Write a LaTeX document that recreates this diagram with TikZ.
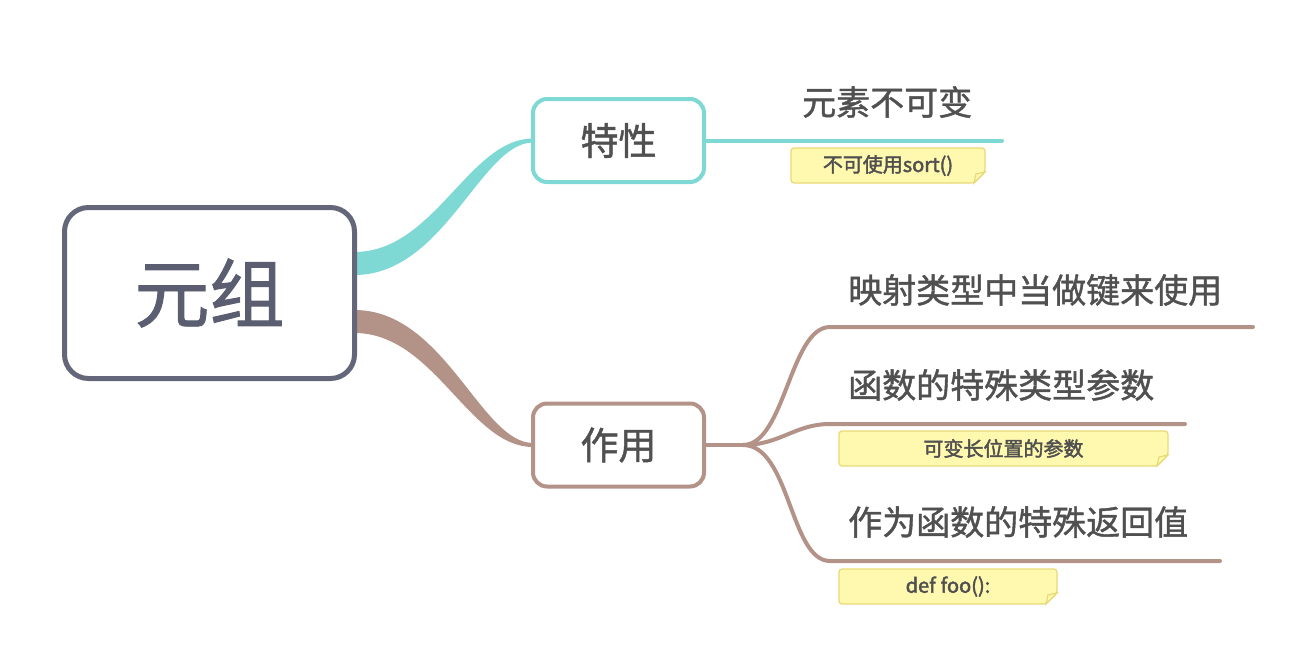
\documentclass[tikz,border=0pt]{standalone}
\usepackage{fontspec}
\setmainfont{Noto Sans CJK SC}[FakeBold=1.2]
\newfontfamily\notefont{Noto Sans CJK SC}[FakeBold=2.2]
\usetikzlibrary{calc, backgrounds}

\definecolor{tealline}{HTML}{7ED8D3}
\definecolor{brownline}{HTML}{B39288}
\definecolor{rootline}{HTML}{636779}
\definecolor{roottext}{HTML}{5A5E70}
\definecolor{topictext}{HTML}{505050}
\definecolor{notefill}{HTML}{FFF9B0}
\definecolor{noteline}{HTML}{E8D977}

% outline of a yellow note with a turned-down corner
\newcommand{\stickynote}[1]{%
  \filldraw[notepaper, rounded corners=3pt] (#1.north west) -- (#1.north east)
    -- ([yshift=11pt]#1.south east) -- ([xshift=-11pt]#1.south east)
    -- (#1.south west) -- cycle;
  \filldraw[notepaper] ([yshift=11pt]#1.south east) -- ([xshift=-11pt]#1.south east)
    -- ([xshift=-9pt,yshift=9pt]#1.south east) -- cycle;}

\begin{document}
\begin{tikzpicture}[x=1pt, y=-1pt,
  rootbox/.style={draw=rootline, line width=5pt, rounded corners=24pt, fill=white,
    minimum width=290pt, minimum height=171pt, outer sep=0pt, text=roottext,
    font=\fontsize{75}{80}\selectfont},
  subbox/.style={draw=#1, line width=4pt, rounded corners=14pt, fill=white,
    minimum width=171pt, minimum height=83pt, outer sep=0pt, text=topictext,
    font=\fontsize{38}{44}\selectfont},
  topic/.style={inner sep=0pt, anchor=west, text=topictext, font=\fontsize{34}{40}\selectfont},
  note/.style={inner sep=0pt, minimum height=35pt, outer sep=0pt, text=topictext,
    font=\notefont\fontsize{20}{23}\selectfont},
  notepaper/.style={fill=notefill, draw=noteline, line width=1.2pt},
  branch/.style={draw=#1, line width=4pt, line cap=round}]

\useasboundingbox (0,0) rectangle (1315,667);

\node[rootbox] (yuanzu) at (209.5,293) {元组};
\node[subbox=tealline] (texing) at (618.5,140.5) {特性};
\node[subbox=brownline] (zuoyong) at (618.5,445) {作用};

% tapered links from the root
\begin{scope}[on background layer]
\fill[tealline] ($(yuanzu.east)+(0,-41)$) .. controls +(80,0) and +(-64,0) .. ($(texing.west)+(0,-2)$)
  -- ($(texing.west)+(0,2)$) .. controls +(-52,0) and +(90,0) .. ($(yuanzu.east)+(0,-18)$) -- cycle;
\fill[brownline] ($(yuanzu.east)+(0,17)$) .. controls +(90,0) and +(-52,0) .. ($(zuoyong.west)+(0,-2)$)
  -- ($(zuoyong.west)+(0,2)$) .. controls +(-64,0) and +(80,0) .. ($(yuanzu.east)+(0,40)$) -- cycle;
\end{scope}

% 特性
\coordinate (tx-end) at (1002,140.5);
\draw[branch=tealline] (texing.east) -- (tx-end);
\node[topic] (bukebian) at (802,102) {元素不可变};
\node[note, minimum width=194pt] (sortnote) at (888,165.5) {不可使用sort()};

% 作用
\coordinate (fork) at (743,445);
\coordinate (b1s) at (830,327);
\coordinate (b1e) at (1253,327);
\coordinate (b2s) at (830,424);
\coordinate (b2e) at (1185,424);
\coordinate (b3s) at (830,561);
\coordinate (b3e) at (1220,561);

\draw[branch=brownline] (zuoyong.east) -- (fork);
\draw[branch=brownline] (fork) .. controls +(42,0) and +(-40,0) .. (b1s) -- (b1e);
\draw[branch=brownline] (fork) .. controls +(37,0) and +(-35,0) .. (b2s) -- (b2e);
\draw[branch=brownline] (fork) .. controls +(47,0) and +(-40,0) .. (b3s) -- (b3e);

\node[topic] (yingshe) at (848,290) {映射类型中当做键来使用};
\node[topic] (canshu) at (848,385) {函数的特殊类型参数};
\node[topic] (fanhui) at (848,522) {作为函数的特殊返回值};

\node[note, minimum width=329pt] (bianchang) at (1003.5,448.5) {可变长位置的参数};
\node[note, minimum width=218pt] (deffoo) at (948,586.5) {def\hspace{5pt}foo():};

\begin{scope}[on background layer]
\stickynote{sortnote}
\stickynote{bianchang}
\stickynote{deffoo}
\end{scope}

\end{tikzpicture}
\end{document}
